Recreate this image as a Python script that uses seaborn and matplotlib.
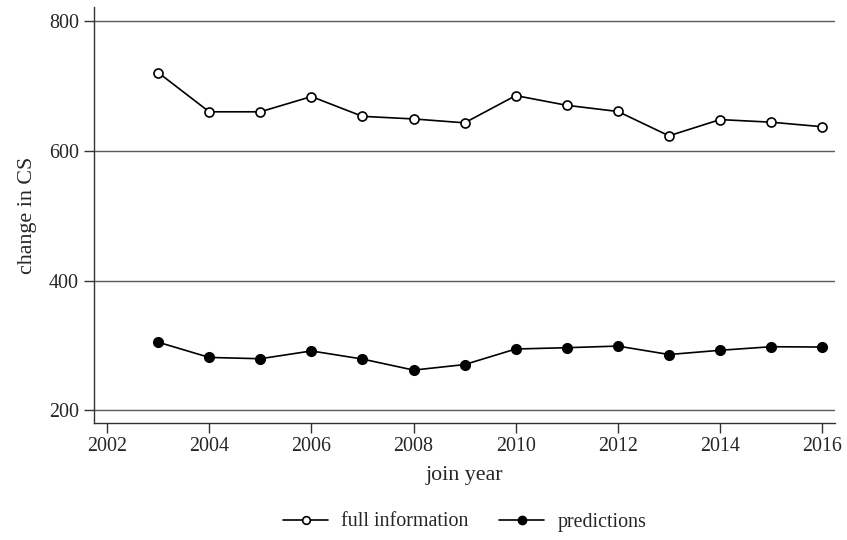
import matplotlib
matplotlib.use("Agg")
import matplotlib.pyplot as plt
import seaborn as sns
import pandas as pd
from matplotlib.lines import Line2D

years = [2003, 2004, 2005, 2006, 2007, 2008, 2009, 2010, 2011, 2012, 2013, 2014, 2015, 2016]
full_information = [720.5, 660, 660, 683.5, 653, 649, 643, 685, 670, 660.5, 623, 648, 644, 637]
predictions = [305, 281.5, 279.5, 291.5, 279, 262, 270.5, 294.5, 296.5, 299, 286, 292.5, 298, 297.5]
x_ticks = [2002, 2004, 2006, 2008, 2010, 2012, 2014, 2016]
y_ticks = [200, 400, 600, 800]

sns.set_theme(style="white")
plt.rcParams["font.family"] = ["Liberation Serif", "DejaVu Serif"]

tick_fs = 14.4
title_fs = 15.8

df = pd.DataFrame({
    "year": years * 2,
    "value": full_information + predictions,
    "series": ["full information"] * len(years) + ["predictions"] * len(years),
})

fig = plt.figure(figsize=(8.47, 5.40), dpi=100)
ax = fig.add_axes([94.3 / 847, 1 - 423.3 / 540, (835 - 94.3) / 847, (423.3 - 7) / 540])

grid_color = "#5a5a5a"
for yv in y_ticks:
    ax.axhline(yv, color=grid_color, lw=1.0, zorder=0)

sns.lineplot(data=df[df.series == "full information"], x="year", y="value",
             color="black", lw=1.2, marker="o", markersize=6.5,
             markerfacecolor="white", markeredgecolor="black", markeredgewidth=1.2,
             ax=ax, legend=False, zorder=3)
sns.lineplot(data=df[df.series == "predictions"], x="year", y="value",
             color="black", lw=1.2, marker="o", markersize=7,
             markerfacecolor="black", markeredgecolor="black", markeredgewidth=1.0,
             ax=ax, legend=False, zorder=3)

ax.set_xlim(2001.75, 2016.25)
ax.set_ylim(180, 821.5)
ax.set_xticks(x_ticks)
ax.set_yticks(y_ticks)
ax.set_xlabel("join year", fontsize=title_fs, labelpad=7)
ax.set_ylabel("change in CS", fontsize=title_fs, labelpad=9)

for side in ["top", "right"]:
    ax.spines[side].set_visible(False)
for side in ["left", "bottom"]:
    ax.spines[side].set_color("#333333")
    ax.spines[side].set_linewidth(1.0)

ax.tick_params(axis="both", which="both", direction="out", length=7, width=1.0,
               color="#333333", labelsize=tick_fs, pad=4, left=True, bottom=True)
ax.tick_params(axis="x", pad=3)
ax.grid(False)

handles = [
    Line2D([], [], color="black", lw=1.2, marker="o", markersize=5.5,
           markerfacecolor="white", markeredgecolor="black", markeredgewidth=1.2),
    Line2D([], [], color="black", lw=1.2, marker="o", markersize=6,
           markerfacecolor="black", markeredgecolor="black", markeredgewidth=1.0),
]
ax.legend(handles, ["full information", "predictions"], loc="center",
          bbox_to_anchor=(0.5, (423.3 - 522) / (423.3 - 7)),
          ncol=2, frameon=False, fontsize=tick_fs, handlelength=2.25,
          columnspacing=1.55, handletextpad=0.65)

fig.savefig("out.png", dpi=100)
